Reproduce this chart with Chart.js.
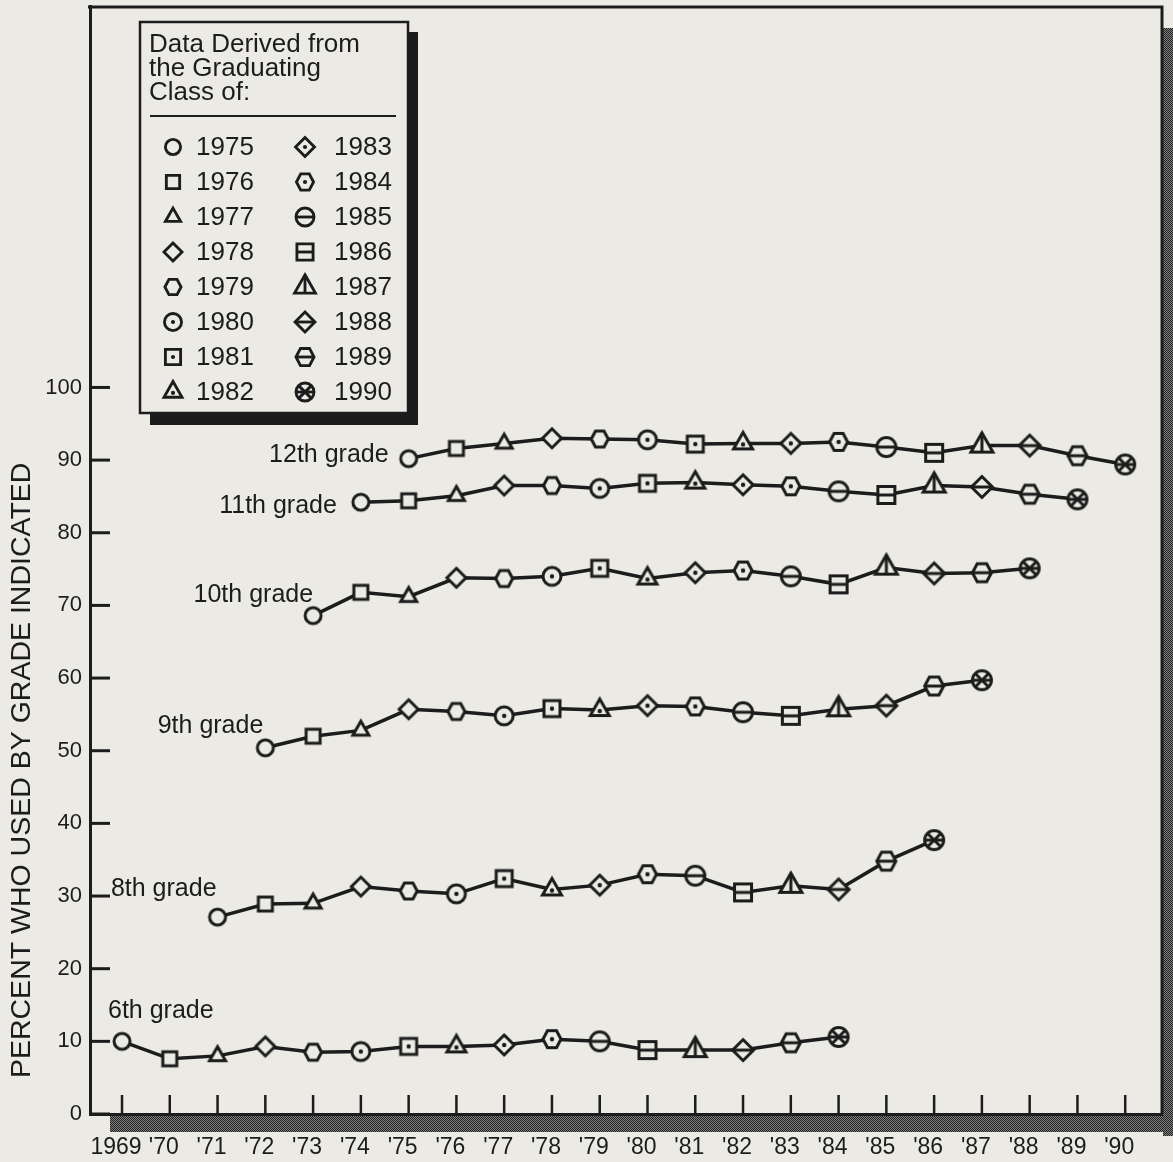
<!DOCTYPE html>
<html>
<head>
<meta charset="utf-8">
<script src="https://cdn.jsdelivr.net/npm/chart.js@4.4.0/dist/chart.umd.min.js"></script>
<style>
  html, body { margin: 0; padding: 0; background: #ebeae4; }
  canvas { display: block; }
</style>
</head>
<body>
<canvas id="chart" width="1173" height="1162"></canvas>
<script>
// ---- Data ----------------------------------------------------------------
const tickYears = [1969, 1970, 1971, 1972, 1973, 1974, 1975, 1976, 1977, 1978, 1979,
                   1980, 1981, 1982, 1983, 1984, 1985, 1986, 1987, 1988, 1989, 1990];
const xTickLabels = ['1969', "'70", "'71", "'72", "'73", "'74", "'75", "'76", "'77", "'78", "'79",
                     "'80", "'81", "'82", "'83", "'84", "'85", "'86", "'87", "'88", "'89", "'90"];
const yTickValues = [0, 10, 20, 30, 40, 50, 60, 70, 80, 90, 100];
const classYears = [1975, 1976, 1977, 1978, 1979, 1980, 1981, 1982,
                    1983, 1984, 1985, 1986, 1987, 1988, 1989, 1990];

const gradeNames = ['6th grade', '8th grade', '9th grade', '10th grade', '11th grade', '12th grade'];
// calendar year in which the class of 1975 reached each grade
const gradeStartYears = [1969, 1971, 1972, 1973, 1974, 1975];

// percent who used by the grade indicated, one value per graduating class (1975 ... 1990)
const grade6  = [10.0, 7.6, 8.0, 9.3, 8.5, 8.6, 9.3, 9.3, 9.5, 10.3, 10.0, 8.8, 8.8, 8.8, 9.8, 10.6];
const grade8  = [27.1, 28.9, 29.0, 31.3, 30.7, 30.3, 32.4, 30.9, 31.5, 33.0, 32.8, 30.5, 31.4, 30.9, 34.8, 37.7];
const grade9  = [50.4, 52.0, 52.8, 55.7, 55.4, 54.8, 55.8, 55.6, 56.2, 56.1, 55.3, 54.8, 55.7, 56.2, 58.9, 59.7];
const grade10 = [68.6, 71.8, 71.2, 73.8, 73.7, 74.0, 75.1, 73.7, 74.5, 74.8, 74.0, 72.9, 75.2, 74.4, 74.5, 75.1];
const grade11 = [84.2, 84.4, 85.1, 86.5, 86.5, 86.1, 86.8, 86.9, 86.6, 86.4, 85.7, 85.2, 86.5, 86.3, 85.3, 84.6];
const grade12 = [90.2, 91.6, 92.3, 93.0, 92.9, 92.8, 92.2, 92.3, 92.3, 92.5, 91.8, 91.0, 92.0, 92.0, 90.6, 89.4];
const gradeValues = [grade6, grade8, grade9, grade10, grade11, grade12];

const legendTitle = ['Data Derived from', 'the Graduating', 'Class of:'];
const yAxisTitle = 'PERCENT WHO USED BY GRADE INDICATED';

// ---- Styling -------------------------------------------------------------
const INK = '#1c1c1c';
const PAPER = '#ebeae4';
const FONT = '"Liberation Sans", Arial, Helvetica, sans-serif';

// Marker for a graduating class: five base shapes, plain / dotted / barred, and a crossed circle.
function drawMarker(g, idx) {
  const shapes = ['circle', 'square', 'triangle', 'diamond', 'hexagon'];
  const kind = idx === 15 ? 'cross' : shapes[idx % 5];
  const deco = idx < 5 ? 'none' : (idx < 10 ? 'dot' : 'bar');
  const grow = idx < 5 ? 0 : (idx < 10 ? 1 : 2);
  g.lineWidth = 3;
  g.strokeStyle = INK;
  g.fillStyle = PAPER;
  g.lineJoin = 'miter';
  g.beginPath();
  let half = 8;
  if (kind === 'circle' || kind === 'cross') {
    half = kind === 'cross' ? 9.5 : [8, 9, 9.5][grow];
    g.arc(0, 0, half, 0, Math.PI * 2);
  } else if (kind === 'square') {
    half = [7, 8, 8.5][grow];
    g.rect(-half, -half, half * 2, half * 2);
  } else if (kind === 'triangle') {
    const w = [8, 9.5, 11][grow];
    const h = w * 1.75;
    half = w;
    g.moveTo(0, -h * 2 / 3);
    g.lineTo(w, h / 3);
    g.lineTo(-w, h / 3);
    g.closePath();
  } else if (kind === 'diamond') {
    half = [9.5, 10, 10.5][grow];
    g.moveTo(0, -half);
    g.lineTo(half, 0);
    g.lineTo(0, half);
    g.lineTo(-half, 0);
    g.closePath();
  } else {
    const rx = [8.5, 9, 9.5][grow];
    const ry = [8, 8.5, 9][grow];
    half = rx;
    g.moveTo(-rx, 0);
    g.lineTo(-rx / 2, -ry);
    g.lineTo(rx / 2, -ry);
    g.lineTo(rx, 0);
    g.lineTo(rx / 2, ry);
    g.lineTo(-rx / 2, ry);
    g.closePath();
  }
  g.fill();
  g.stroke();

  if (deco === 'dot') {
    g.beginPath();
    g.fillStyle = INK;
    const dy = kind === 'triangle' ? 1 : 0;
    g.arc(0, dy, 2.2, 0, Math.PI * 2);
    g.fill();
  } else if (deco === 'bar') {
    g.beginPath();
    if (kind === 'triangle') {
      const h = 11 * 1.75;
      g.moveTo(0, -h * 2 / 3);
      g.lineTo(0, h / 3);
    } else {
      g.moveTo(-half, 0);
      g.lineTo(half, 0);
    }
    g.stroke();
  }
  if (kind === 'cross') {
    const d = half * Math.SQRT1_2;
    g.beginPath();
    g.moveTo(-d, -d); g.lineTo(d, d);
    g.moveTo(d, -d); g.lineTo(-d, d);
    g.stroke();
  }
}

function markerCanvas(idx, scale) {
  const size = 34;
  const c = document.createElement('canvas');
  c.width = size;
  c.height = size;
  const g = c.getContext('2d');
  g.translate(size / 2, size / 2);
  g.scale(scale, scale);
  drawMarker(g, idx);
  return c;
}

const chartMarkers = classYears.map((_, i) => markerCanvas(i, 1));

// Checkered shading used for the drop shadow of the frame
function shadePattern(ctx) {
  const p = document.createElement('canvas');
  p.width = 2; p.height = 2;
  const g = p.getContext('2d');
  g.fillStyle = '#808080'; g.fillRect(0, 0, 2, 2);
  g.fillStyle = '#222222'; g.fillRect(0, 0, 1, 1); g.fillRect(1, 1, 1, 1);
  return ctx.createPattern(p, 'repeat');
}

// ---- Datasets: one line per grade, one marker per graduating class ---------
const datasets = gradeNames.map((name, gi) => ({
  label: name,
  data: gradeValues[gi].map((v, k) => ({ x: gradeStartYears[gi] + k, y: v })),
  borderColor: INK,
  borderWidth: 3.5,
  pointStyle: chartMarkers,
  pointRadius: 10,
  tension: 0,
  fill: false
}));

// Placement of the grade names next to the first point of each line
const gradeLabelPlacement = [
  { align: 'left',  dx: -14, dy: -30 },
  { align: 'right', dx: -1,  dy: -28 },
  { align: 'right', dx: -2,  dy: -22 },
  { align: 'right', dx: 0,   dy: -20 },
  { align: 'right', dx: -24, dy: 4 },
  { align: 'right', dx: -20, dy: -4 }
];

const framePlugin = {
  id: 'frame',
  beforeDraw(chart) {
    const { ctx, chartArea: a } = chart;
    ctx.save();
    ctx.fillStyle = PAPER;
    ctx.fillRect(0, 0, chart.width, chart.height);
    // drop shadow along the right and bottom of the frame
    ctx.fillStyle = shadePattern(ctx);
    ctx.fillRect(a.right + 1, a.top + 22, 11, a.bottom - a.top);
    ctx.fillRect(110, a.bottom + 2, chart.width - 110, 16);
    // top and right edges of the frame
    ctx.strokeStyle = INK;
    ctx.lineWidth = 3;
    ctx.beginPath();
    ctx.moveTo(a.left - 2, a.top + 1);
    ctx.lineTo(a.right, a.top + 1);
    ctx.lineTo(a.right, a.bottom);
    ctx.stroke();
    ctx.restore();
  },
  beforeDatasetsDraw(chart) {
    const { ctx, chartArea: a, scales } = chart;
    ctx.save();
    ctx.strokeStyle = INK;
    // inward ticks on the value axis
    ctx.lineWidth = 3;
    yTickValues.forEach(v => {
      const y = scales.y.getPixelForValue(v);
      ctx.beginPath();
      ctx.moveTo(a.left, y);
      ctx.lineTo(a.left + 20, y);
      ctx.stroke();
    });
    // inward ticks on the year axis
    ctx.lineWidth = 2.5;
    tickYears.forEach(yr => {
      const x = scales.x.getPixelForValue(yr);
      ctx.beginPath();
      ctx.moveTo(x, a.bottom);
      ctx.lineTo(x, a.bottom - 19);
      ctx.stroke();
    });
    ctx.restore();
  },
  afterDatasetsDraw(chart) {
    const { ctx, scales } = chart;
    ctx.save();
    ctx.fillStyle = INK;
    ctx.textBaseline = 'middle';

    // grade names
    ctx.font = '25px ' + FONT;
    gradeNames.forEach((name, gi) => {
      const pt = chart.getDatasetMeta(gi).data[0];
      const pl = gradeLabelPlacement[gi];
      ctx.textAlign = pl.align;
      ctx.fillText(name, pt.x + pl.dx, pt.y + pl.dy);
    });

    // value axis title
    ctx.save();
    ctx.font = '28.5px ' + FONT;
    ctx.textAlign = 'center';
    ctx.translate(22, scales.y.getPixelForValue(47.3));
    ctx.rotate(-Math.PI / 2);
    ctx.fillText(yAxisTitle, 0, 0);
    ctx.restore();

    // legend box
    const bx = 140, by = 22, bw = 268, bh = 391;
    ctx.fillStyle = INK;
    ctx.fillRect(bx + 10, by + 10, bw, bh + 2);
    ctx.fillStyle = PAPER;
    ctx.fillRect(bx, by, bw, bh);
    ctx.strokeStyle = INK;
    ctx.lineWidth = 2.5;
    ctx.strokeRect(bx, by, bw, bh);

    ctx.fillStyle = INK;
    ctx.textAlign = 'left';
    ctx.font = '26px ' + FONT;
    legendTitle.forEach((line, i) => ctx.fillText(line, bx + 9, by + 23 + i * 24));
    ctx.lineWidth = 2;
    ctx.beginPath();
    ctx.moveTo(bx + 10, by + 94);
    ctx.lineTo(bx + 256, by + 94);
    ctx.stroke();

    ctx.font = '26px ' + FONT;
    classYears.forEach((yr, i) => {
      const col = i < 8 ? 0 : 1;
      const row = i % 8;
      const mx = bx + (col ? 165 : 33);
      const my = by + 125 + row * 35;
      ctx.save();
      ctx.translate(mx, my);
      ctx.scale(0.95, 0.95);
      drawMarker(ctx, i);
      ctx.restore();
      ctx.fillStyle = INK;
      ctx.fillText(String(yr), mx + (col ? 29 : 23), my + 1);
    });
    ctx.restore();
  }
};

new Chart(document.getElementById('chart'), {
  type: 'line',
  data: { datasets },
  options: {
    responsive: false,
    animation: false,
    events: [],
    layout: { autoPadding: false, padding: { top: 6, right: 11, left: 0, bottom: 0 } },
    plugins: { legend: { display: false }, tooltip: { enabled: false } },
    scales: {
      x: {
        type: 'linear',
        min: 1968.33,
        max: 1990.77,
        afterFit(scale) {
          scale.height = 48;
          scale.paddingLeft = 0;
          scale.paddingRight = 0;
        },
        afterBuildTicks(scale) { scale.ticks = tickYears.map(v => ({ value: v })); },
        grid: { display: false, drawTicks: false },
        border: { display: true, color: INK, width: 3 },
        ticks: {
          autoSkip: false,
          maxRotation: 0,
          padding: 20,
          labelOffset: -6,
          color: INK,
          font: { family: FONT, size: 23 },
          callback: v => xTickLabels[tickYears.indexOf(v)]
        }
      },
      y: {
        type: 'linear',
        min: 0,
        max: 152.5,
        afterFit(scale) {
          scale.width = 90;
          scale.paddingTop = 0;
          scale.paddingBottom = 0;
        },
        afterBuildTicks(scale) { scale.ticks = yTickValues.map(v => ({ value: v })); },
        grid: { display: false, drawTicks: false },
        border: { display: true, color: INK, width: 3 },
        ticks: {
          autoSkip: false,
          padding: 8,
          color: INK,
          font: { family: FONT, size: 22 },
          callback: v => String(v)
        }
      }
    }
  },
  plugins: [framePlugin]
});
</script>
</body>
</html>
